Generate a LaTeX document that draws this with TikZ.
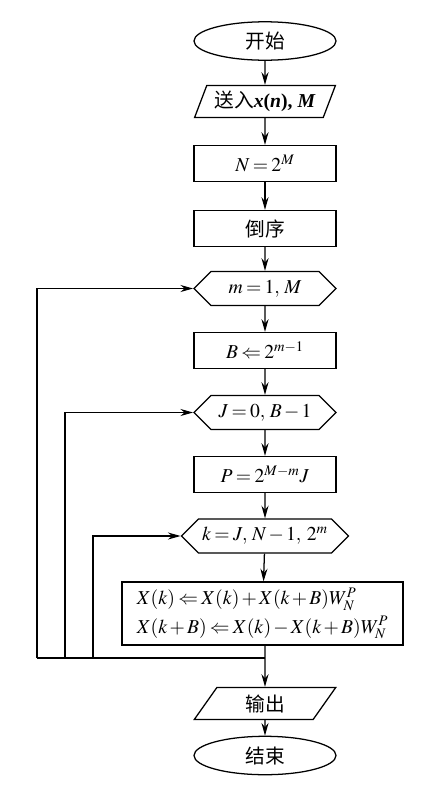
\documentclass[tikz,border=0pt]{standalone}
\usepackage{amsmath}
\usepackage{mathptmx}
\usepackage{fontspec}
\newfontfamily\cjk{Noto Sans CJK SC}
\newfontfamily\timesbf{Liberation Serif}
\usetikzlibrary{shapes.geometric,shapes.symbols,arrows.meta}
\newcommand\flowfont{\fontsize{14pt}{20pt}\selectfont\thickmuskip=3mu\relax\medmuskip=2mu\relax}
\begin{document}
\begin{tikzpicture}[x=0.025cm,y=-0.025cm,line width=0.9pt,
		every node/.style={draw,inner sep=0pt,font=\flowfont},
		term/.style={ellipse,minimum width=3.55cm,minimum height=0.96cm},
		io/.style={trapezium,trapezium left angle=63,trapezium right angle=117,trapezium stretches=true,minimum width=3.55cm,minimum height=0.8cm},
		proc/.style={rectangle,minimum width=3.55cm,minimum height=0.9cm},
		loop/.style={signal,signal to=west and east,signal pointer angle=90,minimum width=3.55cm,minimum height=0.85cm},
		flow/.style={-{Stealth[length=9pt,width=5pt]}}]
	\useasboundingbox (0,0) rectangle (435,797);
	\node[term] (start) at (265,41) {\cjk 开始};
	\node[io] (input) at (265,101.5) {{\cjk 送入}{\timesbf\bfseries\textit{x}(\textit{n}), \textit{M}}};
	\node[proc] (ncap) at (265,163.5) {$N=2^M$};
	\node[proc] (rev) at (265,228.5) {\cjk 倒序};
	\node[loop] (mloop) at (265,288.5) {$m=1,\,M$};
	\node[proc] (bset) at (265,350.5) {$B\Leftarrow 2^{m-1}$};
	\node[loop] (jloop) at (265,412.5) {$J=0,\,B-1$};
	\node[proc] (pset) at (265,474.5) {$P=2^{M-m}J$};
	\node[loop,minimum width=4.175cm] (kloop) at (265,536) {$k=J,\,N-1,\;2^m$};
	\node[proc,minimum width=7.025cm,minimum height=1.575cm,align=left] (bfly) at (262.5,613.5)
		{$X(k)\Leftarrow X(k)+X(k+B)W_N^P$\\$X(k+B)\Leftarrow X(k)-X(k+B)W_N^P$};
	\node[io] (output) at (265,703.5) {\cjk 输出};
	\node[term] (stop) at (265,755.5) {\cjk 结束};
	\coordinate (join) at (265,658);
	\coordinate (mback) at (37,658);
	\coordinate (jback) at (65,658);
	\coordinate (kback) at (93,658);
	\foreach \a/\b in {start/input,input/ncap,ncap/rev,rev/mloop,mloop/bset,bset/jloop,jloop/pset,pset/kloop,kloop/bfly,output/stop}
		\draw[flow] (\a) -- (\b);
	\draw[flow] (bfly.south -| join) -- (output);
	\draw (mback) -- (join);
	\foreach \c/\t in {mback/mloop,jback/jloop,kback/kloop}
		\draw[flow] (\c) |- (\t.west);
\end{tikzpicture}
\end{document}
